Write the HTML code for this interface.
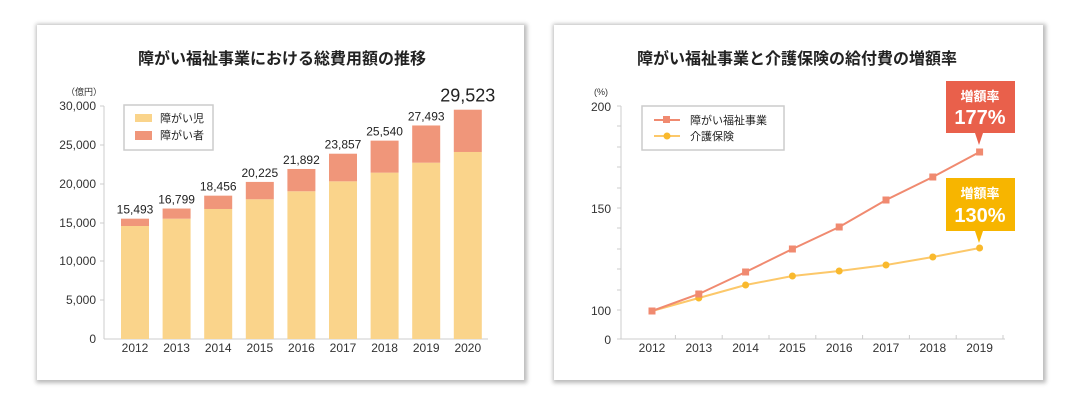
<!DOCTYPE html>
<html><head><meta charset="utf-8"><style>
body{margin:0;width:1091px;height:410px;background:#fff;overflow:hidden;font-family:"Liberation Sans","Noto Sans CJK JP",sans-serif}
.p{position:absolute;background:#fff;box-shadow:1px 1px 4px 2px #bbb}
</style></head><body>
<div class="p" style="left:37px;top:25px;width:487px;height:355px"></div>
<div class="p" style="left:554px;top:25px;width:489px;height:355px"></div>
<svg width="1091" height="410" style="position:absolute;left:0;top:0" font-family="Liberation Sans, Noto Sans CJK JP, sans-serif">
<text x="282" y="64" text-anchor="middle" font-size="16" font-weight="bold" fill="#222">障がい福祉事業における総費用額の推移</text>
<text x="66" y="95" font-size="9" fill="#333">（億円）</text>
<g font-size="12" fill="#333" text-anchor="end">
<text x="96" y="110">30,000</text><text x="96" y="149">25,000</text><text x="96" y="188">20,000</text><text x="96" y="227">15,000</text><text x="96" y="265">10,000</text><text x="96" y="304">5,000</text><text x="96" y="343">0</text>
</g>
<g stroke="#ccc"><line x1="104" y1="106" x2="104" y2="339"/><line x1="104" y1="339" x2="488" y2="339"/>
<line x1="100" y1="106" x2="104" y2="106"/><line x1="100" y1="145" x2="104" y2="145"/><line x1="100" y1="184" x2="104" y2="184"/><line x1="100" y1="223" x2="104" y2="223"/><line x1="100" y1="261" x2="104" y2="261"/><line x1="100" y1="300" x2="104" y2="300"/></g>
<g id="bars"></g>
<rect x="124" y="105" width="89" height="45" fill="#fff" stroke="#ccc" stroke-width="1.5"/>
<rect x="135" y="114" width="17" height="8" fill="#fad48b"/><rect x="135" y="131" width="17" height="9" fill="#f0967a"/>
<text x="160" y="122" font-size="11" fill="#222">障がい児</text><text x="160" y="139" font-size="11" fill="#222">障がい者</text>

<text x="797" y="64" text-anchor="middle" font-size="16" font-weight="bold" fill="#222">障がい福祉事業と介護保険の給付費の増額率</text>
<text x="594" y="95" font-size="9" fill="#333">(%)</text>
<g font-size="12" fill="#333" text-anchor="end"><text x="611" y="111">200</text><text x="611" y="213">150</text><text x="611" y="315">100</text><text x="611" y="344">0</text></g>
<g stroke="#ccc"><line x1="621" y1="106" x2="621" y2="339"/><line x1="617" y1="339" x2="1005" y2="339"/>
<line x1="617" y1="106" x2="621" y2="106"/><line x1="617" y1="126" x2="621" y2="126"/><line x1="617" y1="147" x2="621" y2="147"/><line x1="617" y1="167" x2="621" y2="167"/><line x1="617" y1="188" x2="621" y2="188"/><line x1="617" y1="208" x2="621" y2="208"/><line x1="617" y1="228" x2="621" y2="228"/><line x1="617" y1="249" x2="621" y2="249"/><line x1="617" y1="269" x2="621" y2="269"/><line x1="617" y1="290" x2="621" y2="290"/><line x1="617" y1="310" x2="621" y2="310"/>
</g>
<g id="rl"></g>
<rect x="642" y="106" width="142" height="44" fill="#fff" stroke="#ccc" stroke-width="1.5"/>
<line x1="654" y1="120" x2="680" y2="120" stroke="#f08a70" stroke-width="2"/><rect x="663" y="116" width="7" height="7" fill="#f08a70"/>
<line x1="654" y1="136" x2="680" y2="136" stroke="#fcc86a" stroke-width="2"/><circle cx="667" cy="136" r="3.5" fill="#f9b92d"/>
<text x="690" y="124" font-size="11" fill="#222">障がい福祉事業</text><text x="690" y="140" font-size="11" fill="#222">介護保険</text>
<path d="M946 81H1015V133H983L979 145L975 133H946Z" fill="#e9604b"/>
<text x="980" y="101" text-anchor="middle" font-size="13" font-weight="bold" fill="#fff">増額率</text>
<text x="980" y="124" text-anchor="middle" font-size="20" font-weight="bold" fill="#fff">177%</text>
<path d="M946 178H1015V231H983L979 243L975 231H946Z" fill="#f7b500"/>
<text x="980" y="198" text-anchor="middle" font-size="13" font-weight="bold" fill="#fff">増額率</text>
<text x="980" y="222" text-anchor="middle" font-size="20" font-weight="bold" fill="#fff">130%</text>
</svg>
<script>
var ns="http://www.w3.org/2000/svg";function el(p,t,a,tx){var e=document.createElementNS(ns,t);for(var k in a)e.setAttribute(k,a[k]);if(tx)e.textContent=tx;p.appendChild(e);return e}
var g=document.getElementById("bars"),tot=[15493,16799,18456,20225,21892,23857,25540,27493,29523],low=[14550,15490,16740,17990,19020,20300,21420,22700,24080];
function Y(v){return 339-v*233/30000}
for(var i=0;i<9;i++){var cx=135+i*41.6;
el(g,"rect",{x:cx-14,y:Y(low[i]),width:28,height:339-Y(low[i]),fill:"#fad48b"});
el(g,"rect",{x:cx-14,y:Y(tot[i]),width:28,height:Y(low[i])-Y(tot[i]),fill:"#f0967a"});
var big=i==8;el(g,"text",{x:cx,y:Y(tot[i])-(big?8:5),"text-anchor":"middle","font-size":big?18:12,fill:"#222"},tot[i].toLocaleString("en-US"));
el(g,"text",{x:cx,y:352,"text-anchor":"middle","font-size":12,fill:"#333"},2012+i);}
var r=document.getElementById("rl"),ry=[311,294,272,249,227,200,177,152],yy=[311,298,285,276,271,265,257,248],pr="",py="";
for(var i=0;i<8;i++){var x=652+i*46.8;pr+=(i?"L":"M")+x+" "+ry[i];py+=(i?"L":"M")+x+" "+yy[i];
el(r,"text",{x:x,y:352,"text-anchor":"middle","font-size":12,fill:"#333"},2012+i);
el(r,"line",{x1:x+23.4,y1:335,x2:x+23.4,y2:339,stroke:"#ccc"});}
el(r,"path",{d:py,stroke:"#fcc86a","stroke-width":2,fill:"none"});el(r,"path",{d:pr,stroke:"#f08a70","stroke-width":2,fill:"none"});
for(var i=0;i<8;i++){var x=652+i*46.8;el(r,"circle",{cx:x,cy:yy[i],r:3.5,fill:"#f9b92d"});el(r,"rect",{x:x-3.5,y:ry[i]-3.5,width:7,height:7,fill:"#f08a70"});}
</script>
</body></html>
